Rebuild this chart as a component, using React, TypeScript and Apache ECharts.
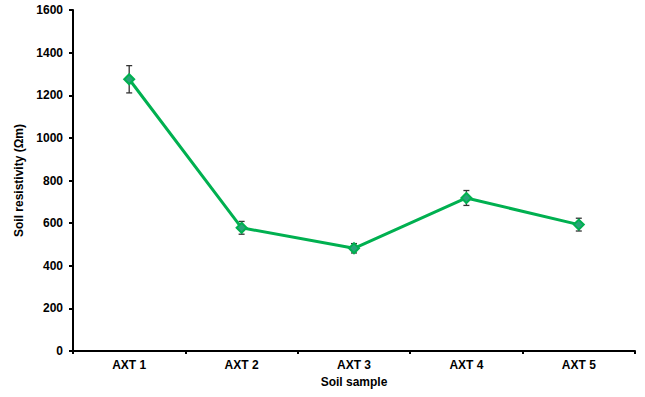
import React, { useEffect, useRef } from "react";
import * as echarts from "echarts";

const categories = ["AXT 1", "AXT 2", "AXT 3", "AXT 4", "AXT 5"];
const resistivity = [1275, 578, 482, 718, 593];
const errors = [64, 30, 22, 35, 30];
const yTicks = [0, 200, 400, 600, 800, 1000, 1200, 1400, 1600];

export default function App() {
  const ref = useRef<HTMLDivElement>(null);
  useEffect(() => {
    const chart = echarts.init(ref.current!, null, { renderer: "svg" });
    const font = "'Liberation Sans', Arial, sans-serif";
    const errData = resistivity.map((v, i) => [i, v - errors[i], v + errors[i]]);
    chart.setOption({
      animation: false,
      backgroundColor: "#fff",
      grid: { left: 73, top: 10, right: 10, bottom: 46, containLabel: false },
      xAxis: {
        type: "category",
        data: categories,
        boundaryGap: true,
        name: "Soil sample",
        nameLocation: "middle",
        nameGap: 24,
        nameTextStyle: { fontFamily: font, fontWeight: "bold", fontSize: 12, color: "#000" },
        axisLine: { lineStyle: { color: "#000", width: 2 } },
        axisTick: { show: true, length: 3, lineStyle: { color: "#000", width: 2 }, alignWithLabel: false },
        axisLabel: { fontFamily: font, fontWeight: "bold", fontSize: 12, color: "#000", margin: 8 },
      },
      yAxis: {
        type: "value",
        min: 0,
        max: 1600,
        interval: 200,
        name: "Soil resistivity (Ωm)",
        nameLocation: "middle",
        nameGap: 47,
        nameRotate: 90,
        nameTextStyle: { fontFamily: font, fontWeight: "bold", fontSize: 12, color: "#000" },
        axisLine: { show: true, lineStyle: { color: "#000", width: 2 } },
        axisTick: { show: true, length: 4, lineStyle: { color: "#000", width: 2 } },
        splitLine: { show: false },
        axisLabel: {
          fontFamily: font,
          fontWeight: "bold",
          fontSize: 12,
          color: "#000",
          margin: 10,
          formatter: (v: number) => (yTicks.includes(v) ? String(v) : ""),
        },
      },
      series: [
        {
          type: "custom",
          z: 1,
          data: errData,
          renderItem: (params: any, api: any) => {
            const x = api.value(0);
            const lo = api.coord([x, api.value(1)]);
            const hi = api.coord([x, api.value(2)]);
            const w = 3;
            const style = { stroke: "#333", lineWidth: 1.3 };
            return {
              type: "group",
              children: [
                { type: "line", shape: { x1: lo[0], y1: lo[1], x2: hi[0], y2: hi[1] }, style },
                { type: "line", shape: { x1: lo[0] - w, y1: lo[1], x2: lo[0] + w, y2: lo[1] }, style },
                { type: "line", shape: { x1: hi[0] - w, y1: hi[1], x2: hi[0] + w, y2: hi[1] }, style },
              ],
            };
          },
        },
        {
          type: "line",
          z: 2,
          data: resistivity,
          symbol: "diamond",
          symbolSize: 10,
          lineStyle: { color: "#00B050", width: 3 },
          itemStyle: { color: "#2aa37a", borderColor: "#00B050", borderWidth: 2 },
        },
      ],
    });
    return () => chart.dispose();
  }, []);
  return <div ref={ref} style={{ width: 645, height: 397, position: "absolute", left: 0, top: 0 }} />;
}
